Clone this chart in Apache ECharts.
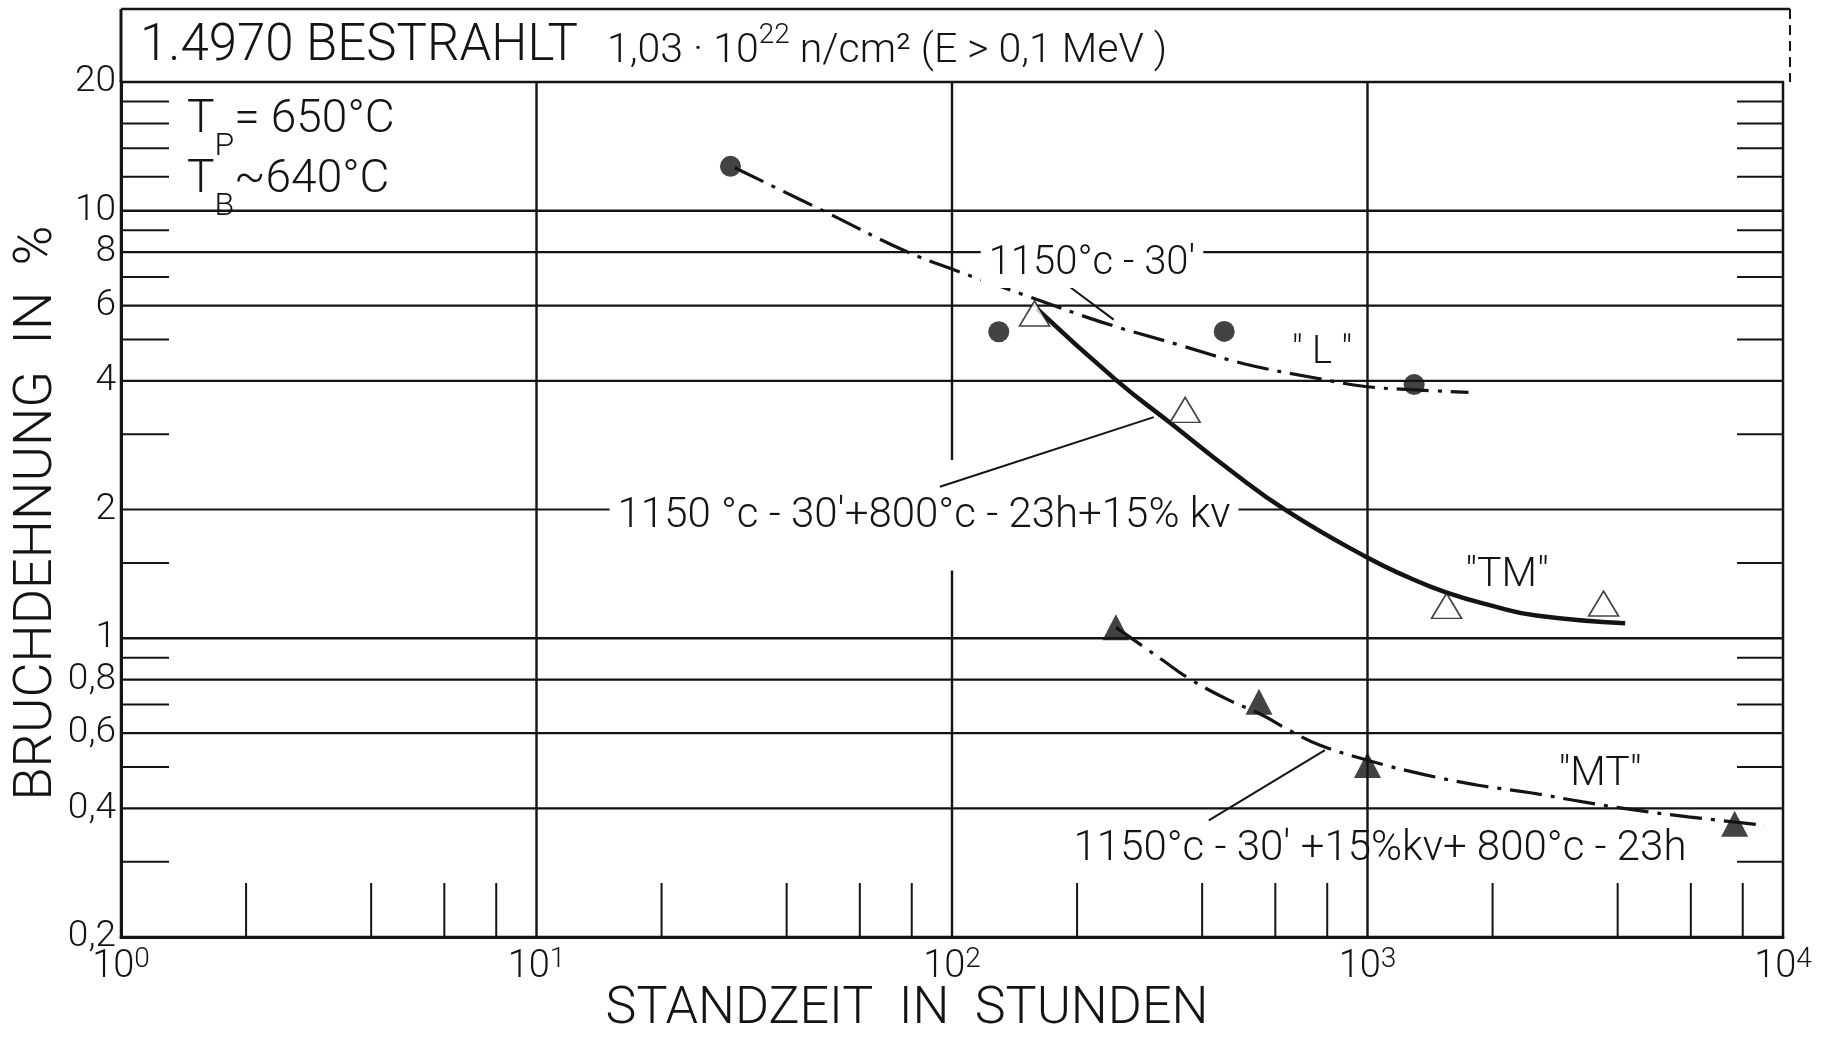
<!DOCTYPE html>
<html><head><meta charset="utf-8">
<script src="https://cdn.jsdelivr.net/npm/echarts@6/dist/echarts.min.js"></script>
<style>html,body{margin:0;padding:0;background:#fff}#c{width:1829px;height:1042px}</style>
</head><body><div id="c"></div>
<script>
// ---------- data ----------
const X_MIN = 1, X_MAX = 10000, Y_MIN = 0.2, Y_MAX = 20;
const xTickExponents = ['0', '1', '2', '3', '4'];
const yTickLabels = [0.2, 0.4, 0.6, 0.8, 1, 2, 4, 6, 8, 10, 20];
const yGridValues = [0.4, 0.6, 0.8, 2, 4, 6, 8];
const yMajorValues = [1, 10];
const yShortTicks = [18, 16, 14, 12, 9, 7, 5, 3, 1.5, 0.9, 0.7, 0.5, 0.3];
const xMinorTicks = [2, 4, 6, 8, 20, 40, 60, 80, 200, 400, 600, 800, 2000, 4000, 6000, 8000];
// vertical decade lines: [x, yFrom, yTo]
const xMajorLines = [[10, 0.2, 20], [100, 0.2, 1.44], [100, 2.61, 20], [1000, 0.2, 20]];

// "L"  (1150°C-30')
const lPoints = [[29.3, 12.7], [129.6, 5.21], [452, 5.22], [1295, 3.92]];
const lCurve = [[30, 12.6], [50, 9.9], [76, 8.1], [100, 7.3], [150, 6.34], [230, 5.48], [350, 4.86], [507, 4.38], [750, 4.06], [988, 3.88], [1300, 3.81], [1750, 3.76]];
// "TM" (1150°C-30'+800°C-23h+15% kv)
const tmPoints = [[158, 5.75], [364, 3.42], [1550, 1.19], [3700, 1.205]];
const tmCurve = [[160, 5.9], [248, 4.02], [335, 3.19], [470, 2.46], [637, 1.99], [991, 1.55], [1250, 1.39], [1545, 1.28], [2000, 1.19], [2547, 1.13], [4170, 1.084]];
// "MT" (1150°C-30'+15%kv+800°C-23h)
const mtPoints = [[248, 1.06], [548, 0.71], [1000, 0.505], [7650, 0.368]];
const mtCurve = [[248, 1.06], [321, 0.889], [371, 0.806], [455, 0.723], [558, 0.661], [646, 0.61], [769, 0.562], [1030, 0.514], [1378, 0.479], [1845, 0.453], [2466, 0.435], [3302, 0.414], [4426, 0.396], [5918, 0.382], [9040, 0.365]];
// annotation leader lines [x1, y1, x2, y2] in data units
const leaderLines = [[189, 6.71, 245, 5.56], [93.5, 2.26, 306, 3.29], [415, 0.375, 790, 0.547]];

// ---------- style ----------
const INK = '#141414';
const FF = 'Roboto, "Liberation Sans", sans-serif';
const f = (size) => '300 ' + size + 'px ' + FF;
const DASHDOT = [32, 9, 4, 9];

const chart = echarts.init(document.getElementById('c'), null, {renderer: 'canvas'});

function segRender(params, api) {
  const a = api.coord([api.value(0), api.value(1)]);
  const b = api.coord([api.value(2), api.value(3)]);
  return {type: 'line', shape: {x1: a[0], y1: a[1], x2: b[0], y2: b[1]}, style: {stroke: INK, lineWidth: 2}};
}

const option = {
  animation: false,
  backgroundColor: '#fff',
  grid: {left: 121, right: 46, top: 82, bottom: 105, show: true, borderColor: INK, borderWidth: 2.5, backgroundColor: 'transparent'},
  xAxis: {
    type: 'log', logBase: 10, min: X_MIN, max: X_MAX,
    axisLine: {show: true, onZero: false, lineStyle: {color: INK, width: 3}},
    axisTick: {show: false}, splitLine: {show: false}, minorTick: {show: false},
    axisLabel: {
      margin: 9, color: INK,
      formatter: (v) => '{b|10}{s|' + xTickExponents[Math.round(Math.log10(v))] + '}',
      rich: {
        b: {fontFamily: FF, fontWeight: 300, fontSize: 38, lineHeight: 40, verticalAlign: 'bottom', color: INK},
        s: {fontFamily: FF, fontWeight: 300, fontSize: 28, lineHeight: 28, verticalAlign: 'top', color: INK}
      }
    }
  },
  yAxis: {
    type: 'log', logBase: 10, min: Y_MIN, max: Y_MAX,
    axisLine: {show: true, onZero: false, lineStyle: {color: INK, width: 3}},
    axisTick: {show: false}, splitLine: {show: false}, minorTick: {show: false},
    axisLabel: {
      customValues: yTickLabels, margin: 5, color: INK,
      fontFamily: FF, fontWeight: 300, fontSize: 37,
      formatter: (v) => String(v).replace('.', ',')
    }
  },
  series: [
    { // horizontal grid lines
      type: 'custom', silent: true, z: 1,
      data: yGridValues.map(v => [X_MIN, v]),
      renderItem: (p, api) => {
        const v = api.value(1);
        const a = api.coord([X_MIN, v]), b = api.coord([X_MAX, v]);
        return {type: 'line', shape: {x1: a[0], y1: a[1], x2: b[0], y2: b[1]}, style: {stroke: INK, lineWidth: 2.2}};
      }
    },
    { // major horizontal lines
      type: 'custom', silent: true, z: 1,
      data: yMajorValues.map(v => [X_MIN, v]),
      renderItem: (p, api) => {
        const v = api.value(1);
        const a = api.coord([X_MIN, v]), b = api.coord([X_MAX, v]);
        return {type: 'line', shape: {x1: a[0], y1: a[1], x2: b[0], y2: b[1]}, style: {stroke: INK, lineWidth: 2.6}};
      }
    },
    { // short ticks left & right
      type: 'custom', silent: true, z: 1,
      data: yShortTicks.map(v => [X_MIN, v]),
      renderItem: (p, api) => {
        const v = api.value(1);
        const a = api.coord([X_MIN, v]), b = api.coord([X_MAX, v]);
        return {type: 'group', children: [
          {type: 'line', shape: {x1: a[0], y1: a[1], x2: a[0] + 48, y2: a[1]}, style: {stroke: INK, lineWidth: 2}},
          {type: 'line', shape: {x1: b[0] - 46, y1: b[1], x2: b[0], y2: b[1]}, style: {stroke: INK, lineWidth: 2}}
        ]};
      }
    },
    { // bottom minor ticks
      type: 'custom', silent: true, z: 1,
      data: xMinorTicks.map(v => [v, Y_MIN]),
      renderItem: (p, api) => {
        const a = api.coord([api.value(0), Y_MIN]);
        return {type: 'line', shape: {x1: a[0], y1: a[1], x2: a[0], y2: a[1] - 54}, style: {stroke: INK, lineWidth: 2}};
      }
    },
    { // vertical decade lines
      type: 'custom', silent: true, z: 1,
      data: xMajorLines,
      encode: {x: 0, y: [1, 2]},
      renderItem: (p, api) => {
        const a = api.coord([api.value(0), api.value(1)]);
        const b = api.coord([api.value(0), api.value(2)]);
        return {type: 'line', shape: {x1: a[0], y1: a[1], x2: b[0], y2: b[1]}, style: {stroke: INK, lineWidth: 2.4}};
      }
    },
    { // leader lines of the annotations
      type: 'custom', silent: true, z: 3,
      data: leaderLines, encode: {x: [0, 2], y: [1, 3]},
      renderItem: segRender
    },
    {type: 'line', data: lCurve, smooth: 0.4, showSymbol: false, z: 4,
     lineStyle: {color: INK, width: 3.2, type: DASHDOT}},
    {type: 'line', data: tmCurve, smooth: 0.5, showSymbol: false, z: 4,
     lineStyle: {color: INK, width: 4.5}},
    {type: 'line', data: mtCurve, smooth: 0.4, showSymbol: false, z: 4,
     lineStyle: {color: INK, width: 3.2, type: DASHDOT}},
    {type: 'scatter', data: lPoints, symbol: 'circle', symbolSize: 21, z: 6,
     itemStyle: {color: INK}},
    {type: 'scatter', data: tmPoints, symbol: 'triangle', symbolSize: [30, 25], z: 6,
     itemStyle: {color: '#fff', borderColor: INK, borderWidth: 1.6}},
    {type: 'scatter', data: mtPoints, symbol: 'triangle', symbolSize: [27, 26], z: 6,
     itemStyle: {color: INK}}
  ],
  graphic: [
    // title box frame
    {type: 'line', shape: {x1: 121, y1: 9, x2: 1790, y2: 9}, style: {stroke: INK, lineWidth: 2.5}, z: 5},
    {type: 'line', shape: {x1: 121, y1: 9, x2: 121, y2: 82}, style: {stroke: INK, lineWidth: 3}, z: 5},
    {type: 'line', shape: {x1: 1790, y1: 9, x2: 1790, y2: 82}, style: {stroke: INK, lineWidth: 2, lineDash: [10, 6]}, z: 5},
    // title texts
    {type: 'text', x: 140, y: 47, z: 20, style: {text: '1.4970 BESTRAHLT', font: f(51), fill: INK, align: 'left', verticalAlign: 'middle'}},
    {type: 'text', x: 607, y: 47, z: 20, style: {
      text: '{a|1,03 · 10}{s|22}{a| n/cm² (E > 0,1 MeV )}', align: 'left', verticalAlign: 'middle',
      rich: {
        a: {font: f(41), fill: INK, lineHeight: 50, verticalAlign: 'bottom'},
        s: {font: f(28), fill: INK, lineHeight: 28, verticalAlign: 'top'}
      }}},
    {type: 'text', x: 187, y: 130, z: 20, style: {
      text: '{t|T}{u|P}{t|= 650°C}', align: 'left', verticalAlign: 'middle',
      rich: {
        t: {font: f(46), fill: INK, lineHeight: 66, verticalAlign: 'top'},
        u: {font: f(32), fill: INK, lineHeight: 32, verticalAlign: 'bottom'}
      }}},
    {type: 'text', x: 187, y: 190, z: 20, style: {
      text: '{t|T}{u|B}{t|~640°C}', align: 'left', verticalAlign: 'middle',
      rich: {
        t: {font: f(46), fill: INK, lineHeight: 66, verticalAlign: 'top'},
        u: {font: f(32), fill: INK, lineHeight: 32, verticalAlign: 'bottom'}
      }}},
    // axis titles
    {type: 'text', x: 37, y: 513, rotation: Math.PI / 2, z: 20, style: {text: 'BRUCHDEHNUNG  IN  %', font: f(54), fill: INK, align: 'center', verticalAlign: 'middle'}},
    {type: 'text', x: 907, y: 1010, z: 20, style: {text: 'STANDZEIT  IN  STUNDEN', font: f(52), fill: INK, align: 'center', verticalAlign: 'middle'}},
    // curve annotations
    {type: 'text', x: 1092, y: 264, z: 20, style: {text: "1150°c - 30'", font: f(40), fill: INK, align: 'center', verticalAlign: 'middle', backgroundColor: '#fff', padding: [4, 8]}},
    {type: 'text', x: 1322, y: 353, z: 20, style: {text: '" L "', font: f(38), fill: INK, align: 'center', verticalAlign: 'middle'}},
    {type: 'text', x: 924, y: 516, z: 20, style: {text: "1150 °c - 30'+800°c - 23h+15% kv", font: f(42), fill: INK, align: 'center', verticalAlign: 'middle', backgroundColor: '#fff', padding: [4, 8]}},
    {type: 'text', x: 1507, y: 576, z: 20, style: {text: '"TM"', font: f(41), fill: INK, align: 'center', verticalAlign: 'middle'}},
    {type: 'text', x: 1600, y: 775, z: 20, style: {text: '"MT"', font: f(41), fill: INK, align: 'center', verticalAlign: 'middle'}},
    {type: 'text', x: 1380, y: 849, z: 20, style: {text: "1150°c - 30' +15%kv+ 800°c - 23h", font: f(42), fill: INK, align: 'center', verticalAlign: 'middle'}}
  ]
};
chart.setOption(option);
</script>
</body></html>
